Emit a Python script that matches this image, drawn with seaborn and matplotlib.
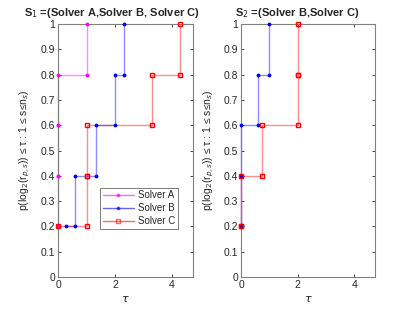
import matplotlib
matplotlib.use("Agg")
import matplotlib.pyplot as plt
from matplotlib.lines import Line2D
import numpy as np
import pandas as pd
import seaborn as sns

# performance profile data (sorted tau values per solver, fraction solved)
frac = [0.2, 0.4, 0.6, 0.8, 1.0]
s1_names = ["Solver A", "Solver B", "Solver C"]
s1_tau = {
    "Solver A": [0, 0, 0, 0, 1.0],
    "Solver B": [0.27, 0.58, 1.32, 2.0, 2.32],
    "Solver C": [0, 1.0, 1.0, 3.31, 4.3],
}
s2_names = ["Solver B", "Solver C"]
s2_tau = {
    "Solver B": [0, 0, 0, 0.58, 1.0],
    "Solver C": [0, 0, 0.73, 2.0, 2.0],
}

styles = {
    "Solver A": dict(color="#ff00ff", marker=".", ms=3.5, mfc="#ff00ff"),
    "Solver B": dict(color="#0000ff", marker=".", ms=3.5, mfc="#0000ff"),
    "Solver C": dict(color="#ff0000", marker="s", ms=3.0, mfc="none"),
}


def stairs(x, y):
    # matlab style stairs vertices
    xs, ys = [x[0]], [y[0]]
    for i in range(1, len(x)):
        xs += [x[i], x[i]]
        ys += [y[i - 1], y[i]]
    return pd.DataFrame({"x": xs, "y": ys})


def draw(ax, names, taus, title, tx):
    for n in names:
        d = stairs(taus[n], frac)
        st = styles[n]
        sns.lineplot(data=d, x="x", y="y", sort=False, estimator=None, ax=ax,
                     color=st["color"], alpha=0.45, lw=1.0, legend=False, clip_on=False)
        ax.plot(d["x"], d["y"], ls="none", marker=st["marker"], ms=st["ms"],
                mfc=st["mfc"], mec=st["color"], mew=1.0, clip_on=False, zorder=4)
    ax.set_xlim(0, 4.74)
    ax.set_ylim(0, 1)
    ax.set_xticks([0, 2, 4])
    ax.set_yticks(np.arange(0, 1.01, 0.1))
    ax.set_yticklabels(["0", "0.1", "0.2", "0.3", "0.4", "0.5", "0.6", "0.7", "0.8", "0.9", "1"])
    ax.tick_params(direction="in", length=2.5, width=0.6, labelsize=7.5, colors="#262626",
                   top=True, right=True, pad=2)
    for s in ax.spines.values():
        s.set_visible(True)
        s.set_color("#808080")
        s.set_linewidth(0.8)
    ax.set_xlabel(r"$\tau$", fontsize=8, labelpad=3)
    ax.set_ylabel("p(log$_2$(r$_{p,s}$)) ≤ τ : 1 ≤ s≤n$_s$)", fontsize=7.5, labelpad=6)
    ax.set_title(title, fontsize=8, fontweight="bold", x=tx, pad=6)


sns.set_style("ticks")
plt.rcParams["font.family"] = ["Liberation Sans", "DejaVu Sans"]
plt.rcParams["mathtext.fontset"] = "dejavusans"

fig = plt.figure(figsize=(4.15, 3.12), dpi=100)
ax1 = fig.add_axes([0.14, 0.112, 0.325, 0.811])
ax2 = fig.add_axes([0.581, 0.112, 0.323, 0.811])

draw(ax1, s1_names, s1_tau, r"S$_1$ =(Solver A,Solver B, Solver C)", 0.40)
draw(ax2, s2_names, s2_tau, r"S$_2$ =(Solver B,Solver C)", 0.42)

handles = []
for n in s1_names:
    st = styles[n]
    handles.append(Line2D([], [], color=st["color"], lw=1.0, alpha=0.6, marker=st["marker"],
                          ms=st["ms"], mfc=st["mfc"], mec=st["color"], mew=1.0))
leg = ax1.legend(handles, s1_names, loc="lower right", bbox_to_anchor=(0.925, 0.17),
                 fontsize=7, frameon=True, fancybox=False, handlelength=3.2,
                 borderpad=0.3, labelspacing=0.3, handletextpad=0.4)
leg.get_frame().set_edgecolor("#404040")
leg.get_frame().set_linewidth(0.6)

fig.savefig("out.png", dpi=100)
